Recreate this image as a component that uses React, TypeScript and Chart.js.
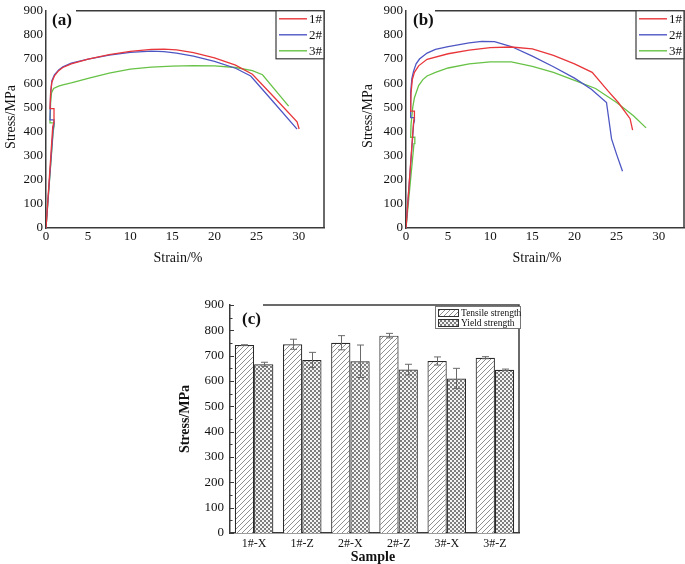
import React, { useEffect, useRef } from "react";
import { Chart, registerables } from "chart.js";
Chart.register(...registerables);

const FONT = "'Liberation Serif', 'DejaVu Serif', 'Times New Roman', serif";
const AXIS = "#3a3a3a";

// ---- shared tick labels ----
const strainTicks = [0, 5, 10, 15, 20, 25, 30];
const stressTicks = [0, 100, 200, 300, 400, 500, 600, 700, 800, 900];
const seriesNames = ["1#", "2#", "3#"];
const seriesColors = ["#e8363a", "#4e56c4", "#67c246"];

// ---- (a) curves ----
const aStrain1 = [0, 0.8, 0.95, 0.95, 0.47, 0.55, 0.7, 1.0, 1.5, 2, 3, 5, 7.5, 10, 12.5, 14, 15.5, 17.5, 20, 22.5, 24.5, 27, 29.8, 30.05];
const aStress1 = [0, 420, 440, 495, 495, 560, 605, 630, 652, 665, 680, 700, 718, 732, 740, 741, 738, 727, 705, 675, 637, 545, 440, 410];
const aStrain2 = [0, 0.85, 0.95, 0.95, 0.47, 0.55, 0.7, 1.0, 1.5, 2, 3, 5, 7.5, 10, 12.5, 14, 15.5, 17.5, 20, 22.5, 24.3, 27, 29.8];
const aStress2 = [0, 410, 430, 448, 448, 560, 610, 635, 655, 668, 683, 700, 716, 728, 733, 731, 725, 712, 690, 662, 630, 522, 410];
const aStrain3 = [0, 0.85, 0.95, 0.95, 0.47, 0.55, 0.65, 0.9, 1.5, 2, 3, 5, 7.5, 10, 12.5, 15, 17.5, 20, 22.5, 24.5, 25.7, 28.8];
const aStress3 = [0, 400, 420, 436, 436, 520, 560, 578, 588, 593, 601, 620, 642, 658, 667, 671, 673, 672, 665, 652, 635, 505];

// ---- (b) curves ----
const bStrain1 = [0, 0.9, 1.0, 1.0, 0.55, 0.6, 0.75, 1.0, 1.5, 2.5, 5, 7.5, 10, 12.5, 15, 17.5, 20, 22.1, 24, 25.2, 26.6, 26.9];
const bStress1 = [0, 440, 460, 484, 484, 560, 615, 645, 672, 699, 722, 737, 747, 750, 742, 715, 680, 645, 567, 520, 453, 406];
const bStrain2 = [0, 0.9, 1.0, 1.0, 0.5, 0.55, 0.7, 0.9, 1.2, 1.6, 2.5, 3.5, 5, 7.5, 9, 10.5, 12.5, 15, 17.5, 20, 22, 23.8, 24.4, 25, 25.7];
const bStress2 = [0, 430, 445, 457, 457, 560, 620, 650, 680, 700, 725, 740, 752, 767, 773, 772, 752, 712, 668, 621, 575, 520, 369, 305, 235];
const bStrain3 = [0, 0.95, 1.05, 1.05, 0.55, 0.6, 0.8, 1.0, 1.5, 2, 2.5, 3.5, 5, 7.5, 10, 12.5, 15, 17.5, 20, 22.5, 25, 27, 28.5];
const bStress3 = [0, 350, 365, 376, 376, 430, 500, 540, 590, 615, 630, 645, 663, 680, 688, 688, 670, 645, 612, 578, 520, 465, 415];

// ---- (c) bars ----
const barCategories = ["1#-X", "1#-Z", "2#-X", "2#-Z", "3#-X", "3#-Z"];
const barSeries = ["Tensile strength", "Yield strength"];
const tensile = [742, 745, 751, 779, 679, 692];
const tensileErr = [1, 20, 28, 9, 16, 4];
const yieldStr = [666, 683, 678, 645, 610, 644];
const yieldErr = [8, 30, 64, 21, 40, 3];

function pts(xs: number[], ys: number[]) {
  return xs.map((x, i) => ({ x, y: ys[i] }));
}

function makeHatch(): CanvasPattern | string {
  const c = document.createElement("canvas");
  c.width = 5; c.height = 5;
  const g = c.getContext("2d");
  if (!g) return "#ccc";
  g.fillStyle = "#fff"; g.fillRect(0, 0, 5, 5);
  g.strokeStyle = "#8f8f8f"; g.lineWidth = 1;
  g.beginPath();
  g.moveTo(-1, 6); g.lineTo(6, -1);
  g.moveTo(-1, 1); g.lineTo(1, -1);
  g.moveTo(4, 6); g.lineTo(6, 4);
  g.stroke();
  return g.createPattern(c, "repeat") || "#ccc";
}
function makeCheck(): CanvasPattern | string {
  const c = document.createElement("canvas");
  c.width = 4; c.height = 4;
  const g = c.getContext("2d");
  if (!g) return "#999";
  g.fillStyle = "#f4f4f4"; g.fillRect(0, 0, 4, 4);
  g.fillStyle = "#7e7e7e";
  g.fillRect(0, 0, 2, 2); g.fillRect(2, 2, 2, 2);
  return g.createPattern(c, "repeat") || "#999";
}

type LineCfg = {
  label: string;
  series: { x: number[]; y: number[] }[];
  topLineStart: number;
  labelX: number;
  xTitle: [number, number];
  yTitle: [number, number];
  padRight: number;
};

function LinePanel({ cfg, left, width }: { cfg: LineCfg; left: number; width: number }) {
  const ref = useRef<HTMLCanvasElement>(null);
  useEffect(() => {
    if (!ref.current) return;
    const decor = {
      id: "decor",
      afterDraw(chart: any) {
        const { ctx, chartArea: ca } = chart;
        ctx.save();
        ctx.strokeStyle = AXIS; ctx.lineWidth = 1.5;
        ctx.beginPath();
        ctx.moveTo(ca.right, ca.bottom); ctx.lineTo(ca.right, ca.top); ctx.lineTo(cfg.topLineStart, ca.top);
        ctx.stroke();
        // panel label
        ctx.fillStyle = "#111";
        ctx.font = `bold 17px ${FONT}`;
        ctx.textBaseline = "middle"; ctx.textAlign = "left";
        ctx.fillText(cfg.label, cfg.labelX, 21);
        // legend
        const lx = ca.right - 48;
        ctx.fillStyle = "#fff";
        ctx.fillRect(lx, ca.top, 48, 48);
        ctx.strokeStyle = AXIS; ctx.lineWidth = 1.2;
        ctx.strokeRect(lx, ca.top, 48, 48);
        ctx.font = `13px ${FONT}`;
        seriesNames.forEach((n, i) => {
          const y = ca.top + 8 + i * 16;
          ctx.strokeStyle = seriesColors[i]; ctx.lineWidth = 1.4;
          ctx.beginPath(); ctx.moveTo(lx + 3, y); ctx.lineTo(lx + 31, y); ctx.stroke();
          ctx.fillStyle = "#111";
          ctx.fillText(n, lx + 33, y + 1);
        });
        // titles
        ctx.font = `14px ${FONT}`;
        ctx.textAlign = "center";
        ctx.fillText("Strain/%", cfg.xTitle[0], cfg.xTitle[1]);
        ctx.translate(cfg.yTitle[0], cfg.yTitle[1]);
        ctx.rotate(-Math.PI / 2);
        ctx.fillText("Stress/MPa", 0, 0);
        ctx.restore();
      },
    };
    const chart = new Chart(ref.current, {
      type: "line",
      data: {
        datasets: cfg.series.map((s, i) => ({
          label: seriesNames[i],
          data: pts(s.x, s.y),
          borderColor: seriesColors[i],
          borderWidth: 1.3,
          pointRadius: 0,
          tension: 0,
          fill: false,
        })),
      },
      options: {
        responsive: false,
        animation: false,
        parsing: false as any,
        layout: { padding: { top: 5, right: cfg.padRight, left: 0, bottom: 0 } },
        plugins: { legend: { display: false }, tooltip: { enabled: false } },
        scales: {
          x: {
            type: "linear",
            min: 0,
            max: 33,
            afterBuildTicks: (s: any) => { s.ticks = strainTicks.map((v) => ({ value: v })); },
            afterFit: (s: any) => { s.height = 42; },
            grid: { display: false, drawTicks: false },
            border: { display: true, color: AXIS, width: 1.5 },
            ticks: { autoSkip: false, maxRotation: 0, padding: 1, color: "#111", font: { family: FONT, size: 13 } },
          },
          y: {
            type: "linear",
            min: 0,
            max: 900,
            afterBuildTicks: (s: any) => { s.ticks = stressTicks.map((v) => ({ value: v })); },
            afterFit: (s: any) => { s.width = 46; },
            grid: { display: false, drawTicks: false },
            border: { display: true, color: AXIS, width: 1.5 },
            ticks: { autoSkip: false, padding: 3, color: "#111", font: { family: FONT, size: 13 } },
          },
        },
      },
      plugins: [decor],
    });
    return () => chart.destroy();
  }, []);
  return (
    <canvas ref={ref} width={width} height={270} style={{ position: "absolute", left, top: 0, width, height: 270 }} />
  );
}

function BarPanel() {
  const ref = useRef<HTMLCanvasElement>(null);
  useEffect(() => {
    if (!ref.current) return;
    const hatch = makeHatch();
    const check = makeCheck();
    const errs = [tensileErr, yieldErr];
    const vals = [tensile, yieldStr];
    const decor = {
      id: "decorBar",
      afterDatasetsDraw(chart: any) {
        const { ctx } = chart;
        const ys = chart.scales.y;
        ctx.save();
        ctx.strokeStyle = "#6a6a6a"; ctx.lineWidth = 1;
        [0, 1].forEach((d) => {
          const meta = chart.getDatasetMeta(d);
          meta.data.forEach((el: any, i: number) => {
            const v = vals[d][i], e = errs[d][i];
            const t = ys.getPixelForValue(v + e), b = ys.getPixelForValue(v - e);
            const x = Math.round(el.x) + 0.5;
            ctx.beginPath();
            ctx.moveTo(x, t); ctx.lineTo(x, b);
            ctx.moveTo(x - 3.5, t); ctx.lineTo(x + 3.5, t);
            ctx.moveTo(x - 3.5, b); ctx.lineTo(x + 3.5, b);
            ctx.stroke();
          });
        });
        ctx.restore();
      },
      afterDraw(chart: any) {
        const { ctx, chartArea: ca } = chart;
        const ys = chart.scales.y;
        ctx.save();
        ctx.strokeStyle = AXIS; ctx.lineWidth = 1.5;
        ctx.beginPath();
        ctx.moveTo(ca.right, ca.bottom); ctx.lineTo(ca.right, ca.top); ctx.lineTo(93, ca.top);
        ctx.stroke();
        // minor inward ticks on y axis
        ctx.lineWidth = 1;
        for (let v = 0; v <= 900; v += 50) {
          const y = Math.round(ys.getPixelForValue(v)) + 0.5;
          ctx.beginPath();
          ctx.moveTo(ca.left, y); ctx.lineTo(ca.left + (v % 100 === 0 ? 4 : 2.5), y);
          ctx.stroke();
        }
        ctx.fillStyle = "#111";
        ctx.font = `bold 17px ${FONT}`;
        ctx.textBaseline = "middle"; ctx.textAlign = "left";
        ctx.fillText("(c)", 72, 30);
        // legend
        const lx = 265, ly = ca.top + 1;
        ctx.fillStyle = "#fff";
        ctx.fillRect(lx, ly, 85, 22);
        ctx.strokeStyle = "#777"; ctx.lineWidth = 1;
        ctx.strokeRect(lx + 0.5, ly + 0.5, 85, 22);
        ctx.font = `9.5px ${FONT}`;
        [hatch, check].forEach((p, i) => {
          const y = ly + 3 + i * 10;
          ctx.fillStyle = p as any;
          ctx.fillRect(lx + 3, y, 20, 7);
          ctx.strokeStyle = "#333";
          ctx.strokeRect(lx + 3.5, y + 0.5, 20, 7);
          ctx.fillStyle = "#111";
          ctx.fillText(barSeries[i], lx + 26, y + 4);
        });
        // titles
        ctx.font = `bold 14px ${FONT}`;
        ctx.textAlign = "center";
        ctx.fillText("Sample", 203, 267);
        ctx.translate(15, 129);
        ctx.rotate(-Math.PI / 2);
        ctx.fillText("Stress/MPa", 0, 0);
        ctx.restore();
      },
    };
    const chart = new Chart(ref.current, {
      type: "bar",
      data: {
        labels: barCategories,
        datasets: [
          { label: barSeries[0], data: tensile, backgroundColor: hatch as any, borderColor: "#2a2a2a", borderWidth: 1.2, categoryPercentage: 0.8, barPercentage: 1.0 },
          { label: barSeries[1], data: yieldStr, backgroundColor: check as any, borderColor: "#2a2a2a", borderWidth: 1.2, categoryPercentage: 0.8, barPercentage: 1.0 },
        ],
      },
      options: {
        responsive: false,
        animation: false,
        layout: { padding: { top: 15, right: 11, left: 0, bottom: 0 } },
        plugins: { legend: { display: false }, tooltip: { enabled: false } },
        scales: {
          x: {
            afterFit: (s: any) => { s.height = 31; },
            grid: { display: false, drawTicks: false },
            border: { display: true, color: AXIS, width: 1.5 },
            ticks: { padding: 4, color: "#111", font: { family: FONT, size: 12 } },
          },
          y: {
            min: 0,
            max: 900,
            afterBuildTicks: (s: any) => { s.ticks = stressTicks.map((v) => ({ value: v })); },
            afterFit: (s: any) => { s.width = 60; },
            grid: { display: false, drawTicks: false },
            border: { display: true, color: AXIS, width: 1.5 },
            ticks: { autoSkip: false, padding: 6, color: "#111", font: { family: FONT, size: 13 } },
          },
        },
      },
      plugins: [decor],
    });
    return () => chart.destroy();
  }, []);
  return (
    <canvas ref={ref} width={360} height={274} style={{ position: "absolute", left: 170, top: 290, width: 360, height: 274 }} />
  );
}

const cfgA: LineCfg = {
  label: "(a)",
  series: [
    { x: aStrain1, y: aStress1 },
    { x: aStrain2, y: aStress2 },
    { x: aStrain3, y: aStress3 },
  ],
  topLineStart: 76,
  labelX: 52,
  xTitle: [178, 258],
  yTitle: [11, 117],
  padRight: 16,
};
const cfgB: LineCfg = {
  label: "(b)",
  series: [
    { x: bStrain1, y: bStress1 },
    { x: bStrain2, y: bStress2 },
    { x: bStrain3, y: bStress3 },
  ],
  topLineStart: 75,
  labelX: 53,
  xTitle: [177, 258],
  yTitle: [8, 116],
  padRight: 1,
};

export default function App() {
  return (
    <div style={{ position: "absolute", left: 0, top: 0, width: 685, height: 564, background: "#fff" }}>
      <LinePanel cfg={cfgA} left={0} width={340} />
      <LinePanel cfg={cfgB} left={360} width={325} />
      <BarPanel />
    </div>
  );
}
